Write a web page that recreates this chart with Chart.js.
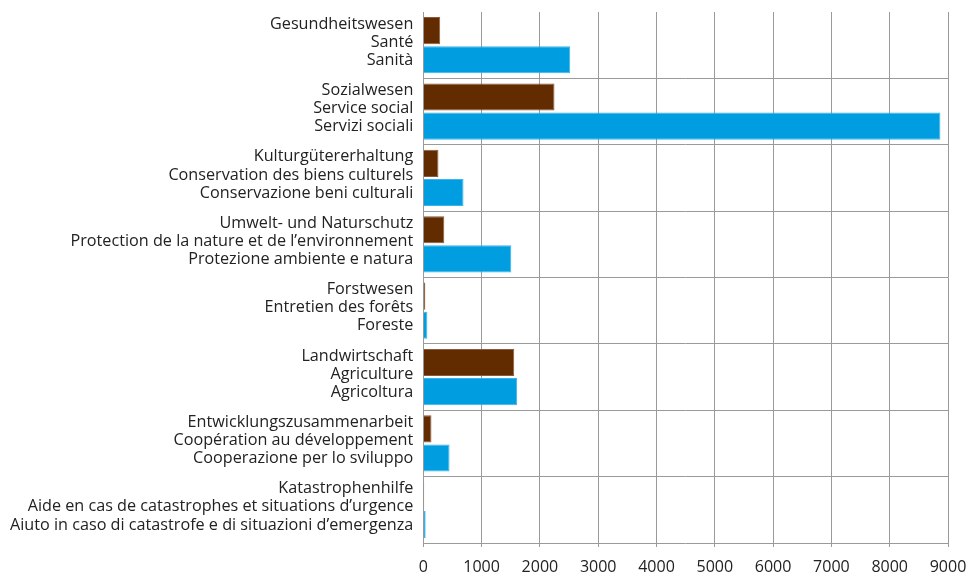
<!DOCTYPE html>
<html>
<head>
<meta charset="utf-8">
<script src="https://cdn.jsdelivr.net/npm/chart.js@4/dist/chart.umd.min.js"></script>
<style>
  html, body { margin: 0; padding: 0; background: #fff; }
  #wrap { width: 969px; height: 577px; }
</style>
</head>
<body>
<div id="wrap"><canvas id="grafico"></canvas></div>
<script>
// categorias (de / fr / it)
const categorias = [
  ["Gesundheitswesen", "Santé", "Sanità"],
  ["Sozialwesen", "Service social", "Servizi sociali"],
  ["Kulturgütererhaltung", "Conservation des biens culturels", "Conservazione beni culturali"],
  ["Umwelt- und Naturschutz", "Protection de la nature et de l’environnement", "Protezione ambiente e natura"],
  ["Forstwesen", "Entretien des forêts", "Foreste"],
  ["Landwirtschaft", "Agriculture", "Agricoltura"],
  ["Entwicklungszusammenarbeit", "Coopération au développement", "Cooperazione per lo sviluppo"],
  ["Katastrophenhilfe", "Aide en cas de catastrophes et situations d’urgence", "Aiuto in caso di catastrofe e di situazioni d’emergenza"]
];

// valores
const serieMarrom = [290, 2250, 260, 360, 35, 1560, 140, 15];
const serieAzul = [2520, 8870, 690, 1510, 70, 1610, 450, 40];

const eixoMax = 9000;
const eixoPasso = 1000;

const ctx = document.getElementById("grafico").getContext("2d");
new Chart(ctx, {
  type: "bar",
  data: {
    labels: categorias,
    datasets: [
      {
        data: serieMarrom,
        backgroundColor: "#632c00",
        borderColor: "#8a5a3a",
        borderWidth: 1,
        categoryPercentage: 0.88,
        barPercentage: 0.93
      },
      {
        data: serieAzul,
        backgroundColor: "#009de0",
        borderColor: "#3ab4ea",
        borderWidth: 1,
        categoryPercentage: 0.88,
        barPercentage: 0.93
      }
    ]
  },
  options: {
    indexAxis: "y",
    responsive: true,
    maintainAspectRatio: false,
    animation: false,
    layout: { padding: { top: 12, right: 21, bottom: 0, left: 0 } },
    plugins: {
      legend: { display: false },
      tooltip: { enabled: false }
    },
    scales: {
      x: {
        min: 0,
        max: eixoMax,
        border: { display: false },
        afterFit: (s) => { s.height = 34; s.paddingLeft = 0; s.paddingRight = 0; },
        ticks: {
          stepSize: eixoPasso,
          color: "#222",
          padding: 11,
          font: { family: "Open Sans", size: 16 },
          callback: (v) => String(v)
        },
        grid: { color: "#9a9a9a", lineWidth: 1, tickLength: 4 }
      },
      y: {
        border: { display: false },
        afterFit: (s) => { s.paddingTop = 0; s.paddingBottom = 0; },
        ticks: {
          color: "#222",
          padding: 10,
          labelOffset: -3,
          font: { family: "Open Sans", size: 16.2, lineHeight: 1.12 }
        },
        grid: {
          offset: true,
          color: (c) => (c.index === 0 ? "rgba(0,0,0,0)" : "#9a9a9a"),
          lineWidth: 1,
          tickLength: 0
        }
      }
    }
  }
});
</script>
</body>
</html>
